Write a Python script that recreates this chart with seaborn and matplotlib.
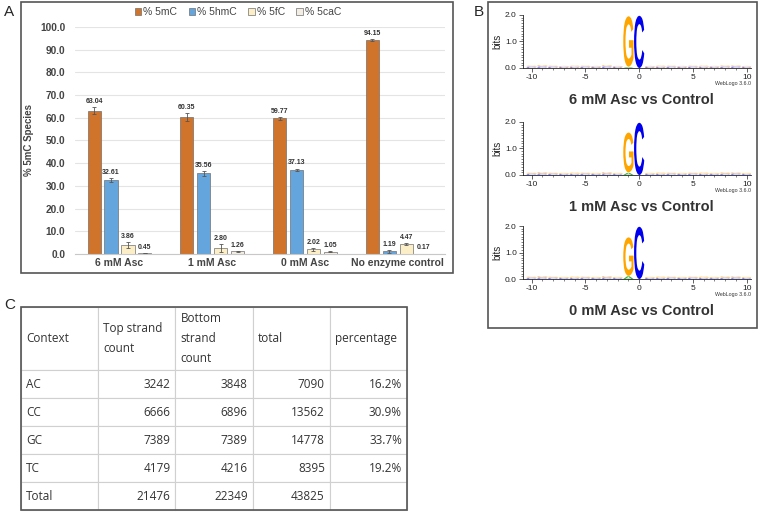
import numpy as np
import pandas as pd
import matplotlib
matplotlib.use('Agg')
import matplotlib.pyplot as plt
import seaborn as sb
from matplotlib.patches import Rectangle, PathPatch
from matplotlib.textpath import TextPath
from matplotlib.font_manager import FontProperties
from matplotlib.transforms import Affine2D
from matplotlib.ticker import MultipleLocator

# panel A data
groups = ['6 mM Asc', '1 mM Asc', '0 mM Asc', 'No enzyme control']
species = ['% 5mC', '% 5hmC', '% 5fC', '% 5caC']
pct_5mC = [63.04, 60.35, 59.77, 94.15]
pct_5hmC = [32.61, 35.56, 37.13, 1.19]
pct_5fC = [3.86, 2.80, 2.02, 4.47]
pct_5caC = [0.45, 1.26, 1.05, 0.17]
err_5mC = [1.5, 1.7, 0.6, 0.5]
err_5hmC = [0.9, 1.1, 0.5, 0.7]
err_5fC = [1.4, 1.7, 0.6, 0.5]
err_5caC = [0.1, 0.2, 0.3, 0.05]
species_colors = {'% 5mC': '#D0732B', '% 5hmC': '#63A5DC',
                  '% 5fC': '#FCEFC7', '% 5caC': '#F3EEE3'}

# panel B data (sequence logos, positions -10..10)
logo_titles = ['6 mM Asc vs Control', '1 mM Asc vs Control', '0 mM Asc vs Control']
positions = list(range(-10, 11))
g_base = [0.05, 0.1, 0.12]
g_height = [1.9, 1.5, 1.45]
a_height = [0.03, 0.08, 0.1]   # small green A under the G
c_height = [1.97, 1.97, 1.97]
bg_orange = [0.04, 0.05, 0.04, 0.04, 0.05, 0.04, 0.04, 0.05, 0.04, 0.0,
             0.0, 0.04, 0.05, 0.04, 0.04, 0.04, 0.05, 0.04, 0.05, 0.04, 0.04]
bg_blue = [0.05, 0.06, 0.05, 0.04, 0.04, 0.05, 0.04, 0.06, 0.04, 0.0,
           0.0, 0.04, 0.04, 0.05, 0.04, 0.05, 0.04, 0.04, 0.05, 0.06, 0.04]

# panel C data
header = ['Context', 'Top strand\ncount', 'Bottom\nstrand\ncount', 'total', 'percentage']
contexts = ['AC', 'CC', 'GC', 'TC', 'Total']
top_counts = [3242, 6666, 7389, 4179, 21476]
bottom_counts = [3848, 6896, 7389, 4216, 22349]
totals = [7090, 13562, 14778, 8395, 43825]
percentages = [16.2, 30.9, 33.7, 19.2, None]

sb.set_style('white')
plt.rcParams['font.family'] = ['Liberation Sans', 'DejaVu Sans']
plt.rcParams['axes.unicode_minus'] = False
W, H = 758, 513
fig = plt.figure(figsize=(W / 100, H / 100), dpi=100)

def fx(px):
    return px / W

def fy(py):
    return 1 - py / H

# ---------------- panel A ----------------
rows = []
for sp, vals in zip(species, [pct_5mC, pct_5hmC, pct_5fC, pct_5caC]):
    for g, v in zip(groups, vals):
        rows.append({'Group': g, 'Species': sp, 'Value': v})
frame = pd.DataFrame(rows)

axA = fig.add_axes([fx(75), fy(254), fx(445) - fx(75), fy(27) - fy(254)])
sb.barplot(data=frame, x='Group', y='Value', hue='Species', order=groups,
           hue_order=species, palette=species_colors, saturation=1, width=0.73, gap=0.22,
           edgecolor='#707070', linewidth=0.5, errorbar=None, ax=axA)
axA.set_xlim(-0.48, 3.51)
axA.set_ylim(0, 100)
axA.set_yticks(np.arange(0, 101, 10))
axA.set_yticklabels(['%.1f' % t for t in np.arange(0, 101, 10)])
axA.yaxis.grid(True, color='#e4e4e4', lw=0.8)
axA.set_axisbelow(True)
for s in ['top', 'right', 'left']:
    axA.spines[s].set_visible(False)
axA.spines['bottom'].set_color('#c8c8c8')
axA.tick_params(axis='both', length=0, labelcolor='#444')
axA.tick_params(axis='y', labelsize=7.3, pad=7)
axA.tick_params(axis='x', labelsize=7.5, pad=3)
for lab in axA.get_xticklabels() + axA.get_yticklabels():
    lab.set_fontweight('bold')
axA.set_xlabel('')
axA.set_ylabel('% 5mC Species', fontsize=7, fontweight='bold', color='#444', labelpad=4)

all_errs = [err_5mC, err_5hmC, err_5fC, err_5caC]
all_vals = [pct_5mC, pct_5hmC, pct_5fC, pct_5caC]
for cont, vals, errs in zip(axA.containers, all_vals, all_errs):
    xs = [b.get_x() + b.get_width() / 2 for b in cont]
    axA.errorbar(xs, vals, yerr=errs, fmt='none', ecolor='#555', elinewidth=0.6,
                 capsize=1.3, capthick=0.6)
    for x, v, e in zip(xs, vals, errs):
        axA.annotate('%.2f' % v, (x, v + e), xytext=(0, 1.5), textcoords='offset points',
                     ha='center', va='bottom', fontsize=5, fontweight='bold', color='#333')

handles, labels = axA.get_legend_handles_labels()
axA.legend(handles, labels, loc='center', bbox_to_anchor=(fx(238), fy(12)),
           bbox_transform=fig.transFigure, ncol=4, frameon=False, fontsize=7.5,
           handlelength=0.6, handleheight=0.6, handletextpad=0.2, columnspacing=1.1,
           labelcolor='#444')

fig.patches.append(Rectangle((fx(21), fy(273)), fx(453) - fx(21), fy(2) - fy(273),
                             transform=fig.transFigure, fill=False, ec='#555', lw=1.2))
fig.text(fx(4), fy(12), 'A', fontsize=11, va='center')

# ---------------- panel B ----------------
logo_font = FontProperties(family='Liberation Sans', weight='bold')

def draw_letter(ax, letter, pos, base, height, color, width=0.95):
    if height <= 0:
        return
    tp = TextPath((0, 0), letter, size=1, prop=logo_font)
    bb = tp.get_extents()
    tr = Affine2D().translate(-bb.x0, -bb.y0).scale(width / bb.width, height / bb.height)
    tr = tr.translate(pos - width / 2, base)
    ax.add_patch(PathPatch(tr.transform_path(tp), facecolor=color, edgecolor='none'))

logo_bottoms = [68, 175, 279]
for i, title in enumerate(logo_titles):
    b = logo_bottoms[i]
    ax = fig.add_axes([fx(523), fy(b), fx(751) - fx(523), 53 / H])
    ax.set_xlim(-10.8, 10.4)
    ax.set_ylim(0, 2.0)
    for p, ho, hb in zip(positions, bg_orange, bg_blue):
        draw_letter(ax, 'C', p, 0, hb, '#6a6aff')
        draw_letter(ax, 'G', p, hb, ho, '#ffc05a')
    draw_letter(ax, 'A', -1, 0, a_height[i], '#30b030')
    draw_letter(ax, 'G', -1, g_base[i], g_height[i], '#FFA500')
    draw_letter(ax, 'C', 0, 0, c_height[i], '#0000EE')
    for s in ['top', 'right']:
        ax.spines[s].set_visible(False)
    for s in ['left', 'bottom']:
        ax.spines[s].set_color('#222')
        ax.spines[s].set_linewidth(0.6)
    ax.set_xticks([-10, -5, 0, 5, 10])
    ax.xaxis.set_minor_locator(MultipleLocator(1))
    ax.set_yticks([0, 1, 2])
    ax.set_yticklabels(['0.0', '1.0', '2.0'])
    ax.yaxis.set_minor_locator(MultipleLocator(0.1))
    ax.tick_params(which='major', direction='out', length=3, width=0.5, labelsize=6,
                   pad=1.5, colors='#222', bottom=True, left=True)
    ax.tick_params(which='minor', direction='out', length=1.5, width=0.4,
                   colors='#222', bottom=True, left=True)
    ax.set_ylabel('bits', fontsize=7, labelpad=2)
    ax.text(1.0, -0.30, 'WebLogo 3.6.0', transform=ax.transAxes, ha='right', va='center',
            fontsize=3.8, color='#333')
    ax.text(0.52, -0.60, title, transform=ax.transAxes, ha='center', va='center',
            fontsize=10.5, fontweight='bold', color='#333')

fig.patches.append(Rectangle((fx(488), fy(328)), fx(757) - fx(488), fy(2) - fy(328),
                             transform=fig.transFigure, fill=False, ec='#555', lw=1.2))
fig.text(fx(474), fy(12), 'B', fontsize=11, va='center')

# ---------------- panel C ----------------
axC = fig.add_axes([fx(21), fy(510), fx(407) - fx(21), fy(307) - fy(510)])
axC.axis('off')
cells = []
for ctx, t, bt, tot, pc in zip(contexts, top_counts, bottom_counts, totals, percentages):
    cells.append([ctx, str(t), str(bt), str(tot), '' if pc is None else '%.1f%%' % pc])
table = axC.table(cellText=cells, colLabels=header, bbox=[0, 0, 1, 1],
                  cellLoc='right', colLoc='left')
table.auto_set_font_size(False)
table.set_fontsize(8.5)
for (r, c), cell in table.get_celld().items():
    cell.set_height(63 if r == 0 else 28)
    cell.set_width(1)
    cell.set_edgecolor('#d0d0d0')
    cell.set_linewidth(0.8)
    cell.PAD = 0.065
    txt = cell.get_text()
    if c == 0:
        txt.set_horizontalalignment('left')
    txt.set_fontfamily('Open Sans')
    txt.set_color('#333')
    txt.set_linespacing(1.75)
axC.add_patch(Rectangle((0, 0), 1, 1, transform=axC.transAxes, fill=False,
                        ec='#555', lw=1.2, clip_on=False))
fig.text(fx(4), fy(305), 'C', fontsize=11, va='center')

plt.savefig('out.png', dpi=100)
